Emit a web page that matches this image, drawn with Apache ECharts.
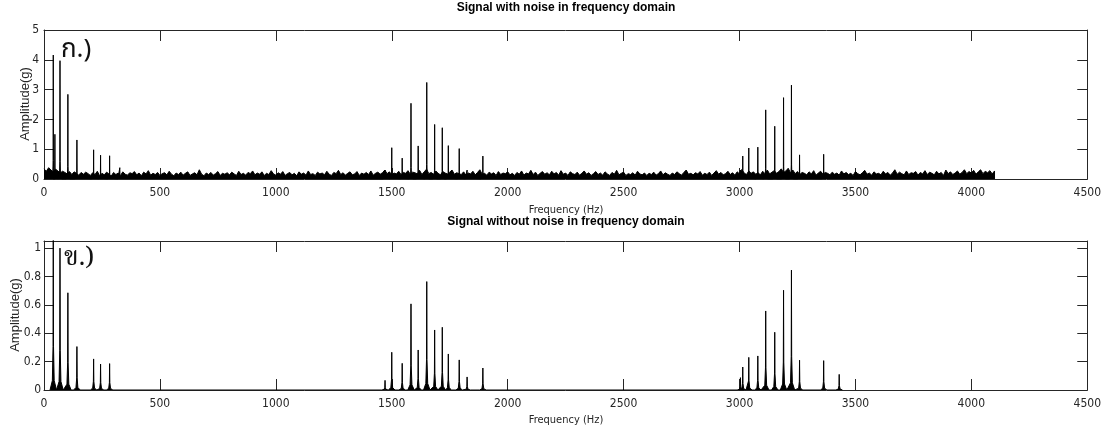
<!DOCTYPE html>
<html><head><meta charset="utf-8">
<script src="https://cdn.jsdelivr.net/npm/echarts@6/dist/echarts.min.js"></script>
<style>html,body{margin:0;padding:0;background:#fff}#c{width:1104px;height:428px}</style>
</head><body><div id="c"></div>
<script>
// ---------- DATA ----------
const xTickLabels = [0,500,1000,1500,2000,2500,3000,3500,4000,4500];
const noiseStepHz = 10;   // noise floor sampled every 10 Hz, from 0 Hz to 4100 Hz
const noiseTop = [
0.34,0.26,0.38,0.30,0.24,0.33,0.27,0.20,0.26,0.22,0.17,0.25,0.15,0.24,0.19,0.13,0.22,0.16,0.23,0.18,
0.12,0.21,0.15,0.26,0.11,0.19,0.14,0.23,0.17,0.10,0.22,0.15,0.20,0.12,0.24,0.16,0.13,0.21,0.18,0.25,
0.14,0.20,0.11,0.23,0.17,0.28,0.13,0.19,0.15,0.22,0.12,0.18,0.21,0.14,0.26,0.16,0.11,0.20,0.15,0.23,
0.13,0.19,0.24,0.12,0.17,0.21,0.14,0.31,0.16,0.11,0.20,0.15,0.22,0.13,0.18,0.25,0.12,0.19,0.16,0.21,
0.14,0.23,0.17,0.12,0.26,0.15,0.19,0.13,0.22,0.18,0.27,0.14,0.20,0.16,0.24,0.12,0.19,0.15,0.28,0.17,
0.13,0.21,0.16,0.25,0.12,0.18,0.22,0.14,0.19,0.11,0.24,0.16,0.20,0.13,0.27,0.15,0.18,0.12,0.23,0.17,
0.20,0.14,0.26,0.16,0.12,0.22,0.18,0.29,0.15,0.21,0.13,0.19,0.24,0.14,0.17,0.25,0.12,0.20,0.16,0.22,
0.15,0.27,0.13,0.19,0.23,0.16,0.21,0.30,0.18,0.24,0.14,0.20,0.17,0.26,0.15,0.22,0.19,0.28,0.16,0.23,
0.21,0.17,0.29,0.15,0.24,0.33,0.18,0.22,0.16,0.27,0.19,0.14,0.25,0.20,0.17,0.23,0.30,0.16,0.21,0.18,
0.15,0.24,0.13,0.20,0.17,0.26,0.14,0.22,0.31,0.16,0.19,0.13,0.23,0.17,0.21,0.12,0.25,0.15,0.20,0.18,
0.24,0.14,0.19,0.12,0.22,0.16,0.27,0.13,0.20,0.17,0.29,0.15,0.23,0.12,0.19,0.25,0.16,0.21,0.14,0.26,
0.17,0.22,0.13,0.28,0.16,0.20,0.12,0.24,0.18,0.15,0.23,0.13,0.19,0.27,0.16,0.21,0.12,0.18,0.25,0.15,
0.20,0.13,0.24,0.17,0.12,0.22,0.16,0.29,0.14,0.19,0.23,0.12,0.18,0.15,0.21,0.13,0.26,0.17,0.14,0.20,
0.12,0.19,0.15,0.23,0.13,0.18,0.27,0.14,0.21,0.16,0.12,0.20,0.15,0.24,0.18,0.13,0.22,0.30,0.16,0.19,
0.14,0.21,0.17,0.25,0.13,0.19,0.15,0.23,0.12,0.20,0.28,0.16,0.22,0.14,0.18,0.26,0.15,0.21,0.13,0.24,
0.17,0.32,0.20,0.15,0.27,0.19,0.24,0.16,0.21,0.14,0.26,0.18,0.30,0.17,0.23,0.28,0.19,0.25,0.34,0.22,
0.27,0.36,0.21,0.30,0.18,0.25,0.15,0.22,0.19,0.14,0.24,0.17,0.28,0.13,0.20,0.26,0.16,0.22,0.19,0.14,
0.23,0.16,0.20,0.13,0.27,0.17,0.22,0.15,0.19,0.12,0.25,0.18,0.14,0.21,0.29,0.16,0.20,0.13,0.24,0.17,
0.19,0.14,0.26,0.17,0.22,0.13,0.20,0.31,0.16,0.23,0.18,0.14,0.27,0.15,0.21,0.19,0.25,0.13,0.22,0.17,
0.28,0.15,0.23,0.19,0.14,0.26,0.17,0.22,0.12,0.30,0.18,0.24,0.15,0.20,0.27,0.16,0.22,0.31,0.18,0.25,
0.20,0.29,0.16,0.24,0.31,0.18,0.26,0.21,0.28,0.17,0.27
];
const topPeakFreq = [40,47,69,103,142,214,244,283,327,1471,1500,1545,1583,1614,1651,1685,1718,1744,1791,1825,1893,3004,3014,3040,3079,3113,3152,3190,3224,3259,3363];
const topPeakAmp  = [4.16,1.5,3.97,2.84,1.31,0.98,0.80,0.78,0.38,0.30,1.05,0.70,2.54,1.11,3.24,1.83,1.72,1.12,1.02,0.30,0.77,0.30,0.77,1.04,1.07,2.32,1.77,2.73,3.15,0.81,0.83];
const botPeakFreq = [40,69,103,142,214,244,283,1471,1500,1545,1583,1614,1651,1685,1718,1744,1791,1825,1893,3004,3014,3040,3079,3113,3152,3190,3224,3259,3363,3430];
const botPeakAmp  = [1.10,1.00,0.685,0.306,0.219,0.183,0.186,0.068,0.266,0.188,0.607,0.282,0.764,0.423,0.442,0.254,0.212,0.092,0.155,0.087,0.162,0.230,0.240,0.557,0.407,0.703,0.845,0.210,0.207,0.110];

// ---------- STYLE (peak drawing shape) ----------
const SKIRT_TOP = {dx:[-8,-2,-0.7,0,0.7,2,8], k:[0,0.04,0.15,1,0.15,0.04,0]};
const SKIRT_BOT = {dx:[-14,-4,-1,0,1,4,14], k:[0,0.06,0.28,1,0.28,0.06,0]};

function spikePoints(freqs, amps, sk){
  const pts=[];
  freqs.forEach((f,i)=>{ sk.dx.forEach((d,j)=>pts.push([f+d, amps[i]*sk.k[j]])); });
  return pts;
}
const noisePts = noiseTop.map((v,i)=>[i*noiseStepHz, v]);
noisePts.push([(noiseTop.length-1)*noiseStepHz, 0]);

const AX = '#262626';
const NARROW = '"Liberation Sans Narrow","DejaVu Sans Condensed","Liberation Sans",Arial,sans-serif';
const SANS = '"Liberation Sans",Arial,sans-serif';

function xAxes(gi){
  return [
    {gridIndex:gi, type:'value', position:'bottom', min:0, max:4500, interval:500,
     axisLine:{show:true, onZero:false, lineStyle:{color:AX,width:1}},
     axisTick:{show:true, inside:true, length:11, lineStyle:{color:AX}},
     axisLabel:{show:true, margin:8, color:AX, fontSize:12, fontFamily:NARROW,
       formatter:v=>xTickLabels.includes(v)?String(v):''},
     splitLine:{show:false}},
    {gridIndex:gi, type:'value', position:'top', min:0, max:4500, interval:500,
     axisLine:{show:true, onZero:false, lineStyle:{color:AX,width:1}},
     axisTick:{show:true, inside:true, length:11, lineStyle:{color:AX}},
     axisLabel:{show:false}, splitLine:{show:false}}
  ];
}
function yAxes(gi, max, interval, margin){
  const fmt = v => {const r=v/interval; return Math.abs(r-Math.round(r))<1e-6 ? String(+v.toFixed(1)) : '';};
  return [
    {gridIndex:gi, type:'value', position:'left', min:0, max:max, interval:interval,
     axisLine:{show:true, onZero:false, lineStyle:{color:AX,width:1}},
     axisTick:{show:true, inside:true, length:10, lineStyle:{color:AX}},
     axisLabel:{show:true, margin:margin, color:AX, fontSize:12, fontFamily:NARROW, formatter:fmt, showMaxLabel: max%interval===0},
     splitLine:{show:false}},
    {gridIndex:gi, type:'value', position:'right', min:0, max:max, interval:interval,
     axisLine:{show:true, onZero:false, lineStyle:{color:AX,width:1}},
     axisTick:{show:true, inside:true, length:10, lineStyle:{color:AX}},
     axisLabel:{show:false}, splitLine:{show:false}}
  ];
}
function lineSeries(xi, yi, data, z){
  return {type:'line', xAxisIndex:xi, yAxisIndex:yi, data:data, showSymbol:false, symbol:'none',
    lineStyle:{color:'#000', width:1}, areaStyle:{color:'#000', opacity:1}, clip:true, z:z,
    silent:true, animation:false, sampling:null};
}

const chart = echarts.init(document.getElementById('c'), null, {renderer:'canvas'});
chart.setOption({
  animation:false,
  backgroundColor:'#fff',
  grid:[
    {left:44, right:15, top:30, height:149, containLabel:false},
    {left:44, right:15, top:241, height:149, containLabel:false}
  ],
  xAxis:[...xAxes(0), ...xAxes(1)],
  yAxis:[...yAxes(0,5,1,5), ...yAxes(1,1.05,0.2,3)],
  series:[
    lineSeries(0,0,noisePts,2),
    lineSeries(0,0,spikePoints(topPeakFreq, topPeakAmp, SKIRT_TOP),3),
    lineSeries(2,2,spikePoints(botPeakFreq, botPeakAmp, SKIRT_BOT),3)
  ],
  graphic:[
    {type:'text', x:566, y:8, style:{text:'Signal with noise in frequency domain', font:'bold 12px '+SANS, fill:'#000', align:'center', verticalAlign:'middle'}},
    {type:'text', x:566, y:210, style:{text:'Frequency (Hz)', font:'11px '+NARROW, fill:AX, align:'center', verticalAlign:'middle'}},
    {type:'text', x:25, y:104, rotation:Math.PI/2, style:{text:'Amplitude(g)', font:'13px '+SANS, fill:AX, align:'center', verticalAlign:'middle'}},
    {type:'text', x:566, y:222, style:{text:'Signal without noise in frequency domain', font:'bold 12px '+SANS, fill:'#000', align:'center', verticalAlign:'middle'}},
    {type:'text', x:566, y:420, style:{text:'Frequency (Hz)', font:'11px '+NARROW, fill:AX, align:'center', verticalAlign:'middle'}},
    {type:'text', x:15, y:315, rotation:Math.PI/2, style:{text:'Amplitude(g)', font:'13px '+SANS, fill:AX, align:'center', verticalAlign:'middle'}},
    {type:'text', x:61, y:52, style:{text:'ก.)', font:'26px "Noto Sans Thai","Noto Sans","DejaVu Sans",sans-serif', fill:'#111', align:'left', verticalAlign:'middle'}},
    {type:'text', x:64, y:261, style:{text:'ข.)', font:'26px "Noto Serif Thai","Noto Sans Thai","Noto Sans","DejaVu Serif",serif', fill:'#111', align:'left', verticalAlign:'middle'}}
  ]
});
</script>
</body></html>
